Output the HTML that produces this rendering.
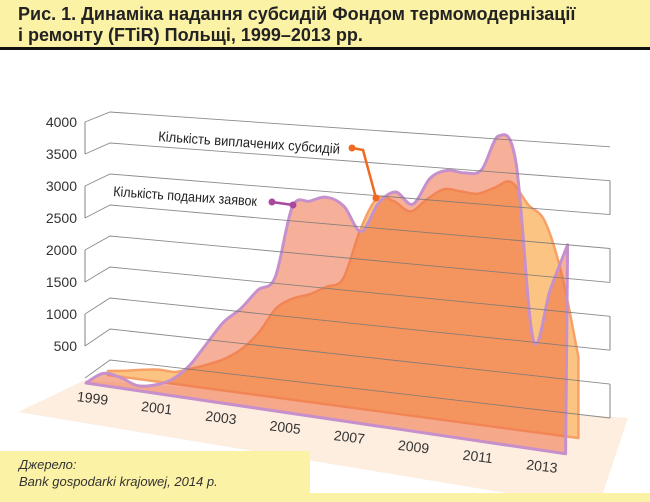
<!DOCTYPE html>
<html><head><meta charset="utf-8"><style>
body{margin:0;width:650px;height:502px;overflow:hidden;background:#fff;font-family:"Liberation Sans",sans-serif;}
#title{position:absolute;left:0;top:0;width:650px;height:47px;background:#fcf2a6;border-bottom:3px solid #111;}
#title div{position:absolute;left:18px;top:4px;font-weight:bold;font-size:18px;line-height:21px;color:#222;}
#src{position:absolute;left:0;top:451px;width:310px;height:42px;background:#fcf2a6;font-style:italic;font-size:13px;line-height:17px;color:#333;}
#src div{padding:5px 0 0 19px}
#band{position:absolute;left:0;top:493px;width:650px;height:9px;background:#fcf2a6;}
svg{position:absolute;left:0;top:0}
</style></head><body>
<div id="title"><div>Рис. 1. Динаміка надання субсидій Фондом термомодернізації<br>і ремонту (FTiR) Польщі, 1999–2013 рр.</div></div>
<svg id="chart" width="650" height="502"></svg>
<div id="src"><div>Джерело:<br>Bank gospodarki krajowej, 2014 р.</div></div>
<div id="band"></div>
<script>
const periods=[1999,1999.5,2000,2000.5,2001,2001.5,2002,2002.5,2003,2003.5,2004,2004.5,2005,2005.5,2006,2006.5,2007,2007.5,2008,2008.5,2009,2009.5,2010,2010.5,2011,2011.5,2012,2012.5,2013];
const applications=[0,150,130,60,100,200,400,700,1000,1200,1460,1650,2550,2650,2730,2650,2370,2750,2920,2800,3150,3280,3280,3350,3800,3500,1350,2000,2580];
const subsidies=[50,80,120,150,150,220,300,400,550,780,1100,1250,1330,1450,1580,2200,2620,2620,2520,2700,2850,2850,2850,2950,3050,2800,2620,2000,1000];
const yTicks=[0,500,1000,1500,2000,2500,3000,3500,4000];
const yearLabels=[1999,2001,2003,2005,2007,2009,2011,2013];

const NS="http://www.w3.org/2000/svg";
const svg=document.getElementById('chart');
function mk(tag,attrs,parent){const e=document.createElementNS(NS,tag);for(const k in attrs)e.setAttribute(k,attrs[k]);(parent||svg).appendChild(e);return e;}
const K=0.081;
function frontX(p){return 86+(p-1999)*34.4;}
function frontBase(x){return 383+(x-86)*0.147;}
function backX(p){return 108+(p-1999)*33.6;}
function backBase(x){return 375+(x-108)*0.134;}
function gLeft(v){return 378-v*0.064;}
function gCorner(v){return 360-v*0.062;}
function gRight(v){return 418-v*0.0678;}
function labelX(y){return 92+(y-1999)*32.1;}
function labelY(y){return 403+(y-1999)*4.86;}

function smooth(pts){let d='M'+pts[0][0]+','+pts[0][1];
 for(let i=0;i<pts.length-1;i++){const p0=pts[i-1]||pts[i],p1=pts[i],p2=pts[i+1],p3=pts[i+2]||p2;
  d+=' C'+(p1[0]+(p2[0]-p0[0])/6).toFixed(1)+','+(p1[1]+(p2[1]-p0[1])/6).toFixed(1)+' '+(p2[0]-(p3[0]-p1[0])/6).toFixed(1)+','+(p2[1]-(p3[1]-p1[1])/6).toFixed(1)+' '+p2[0].toFixed(1)+','+p2[1].toFixed(1);}
 return d;}

const floor=mk('polygon',{points:'18,412 85,380 628,418 600,502 560,502',fill:'#fde8d6',opacity:'0.75'});



const bpts=periods.map((p,i)=>{const x=backX(p);return [x,backBase(x)-subsidies[i]*K];});
const bx0=backX(periods[0]),bx1=backX(periods[periods.length-1]);
const backArea=mk('path',{d:smooth(bpts)+' L'+bx1+','+backBase(bx1)+' L'+bx0+','+backBase(bx0)+' Z',fill:'#fbc482',stroke:'#f7a068','stroke-width':'2.5','stroke-linejoin':'round'});



const fpts=periods.map((p,i)=>{const x=frontX(p);return [x,frontBase(x)-applications[i]*K];});
const fx0=frontX(periods[0]),fx1=frontX(periods[periods.length-1]);
const frontArea=mk('path',{d:smooth(fpts)+' L'+(fx1-2)+','+frontBase(fx1)+' L'+fx0+','+frontBase(fx0)+' Z',fill:'rgba(238,112,70,0.55)',stroke:'#c690cc','stroke-width':'3','stroke-linejoin':'round'});



yTicks.forEach((v,i)=>{
 const g=mk('polyline',{points:'85,'+gLeft(v)+' 110,'+gCorner(v)+' 610,'+gRight(v),fill:'none',stroke:'#777','stroke-width':'0.9',opacity:'0.85'});
 
 
 if(v>0){
  const t=mk('text',{x:77,y:gLeft(v)+5,'text-anchor':'end','font-size':'14','fill':'#333'});
  t.textContent=v;
  
  
 }
 if(i%2===1){
  const v2=yTicks[i+1];
  if(v2!==undefined){const w=mk('line',{x1:85,y1:gLeft(v),x2:85,y2:gLeft(v2),stroke:'#777','stroke-width':'0.9'});
   
   }
 }
 if(i%2===0 && i<yTicks.length-1){
  const v2=yTicks[i+1];
  const w=mk('line',{x1:610,y1:gRight(v),x2:610,y2:gRight(v2),stroke:'#777','stroke-width':'0.9'});
  
  
 }
});
yearLabels.forEach(y=>{
 const x=labelX(y), yy=labelY(y);
 const t=mk('text',{x:x,y:yy,'text-anchor':'middle','font-size':'14','fill':'#333',transform:'rotate(7 '+x+' '+yy+')'});
 t.textContent=y;
 
 
});
const a1=mk('text',{x:158,y:141,'font-size':'14','fill':'#222',textLength:'182',lengthAdjust:'spacingAndGlyphs',transform:'rotate(4 158 141)'});a1.textContent='Кількість виплачених субсидій';


const l1=mk('polyline',{points:'352,148 363,150 376,198',fill:'none',stroke:'#f06a22','stroke-width':'2.5'});


mk('circle',{cx:352,cy:148,r:3.5,fill:'#f06a22'});mk('circle',{cx:376,cy:198,r:3.5,fill:'#f06a22'});
const a2=mk('text',{x:113,y:196,'font-size':'14','fill':'#222',textLength:'144',lengthAdjust:'spacingAndGlyphs',transform:'rotate(4 113 196)'});a2.textContent='Кількість поданих заявок';


const l2=mk('line',{x1:272,y1:202,x2:293,y2:205,stroke:'#a8489e','stroke-width':'2.5'});


mk('circle',{cx:272,cy:202,r:3.5,fill:'#a8489e'});mk('circle',{cx:293,cy:205,r:3.5,fill:'#a8489e'});
</script>
</body></html>
